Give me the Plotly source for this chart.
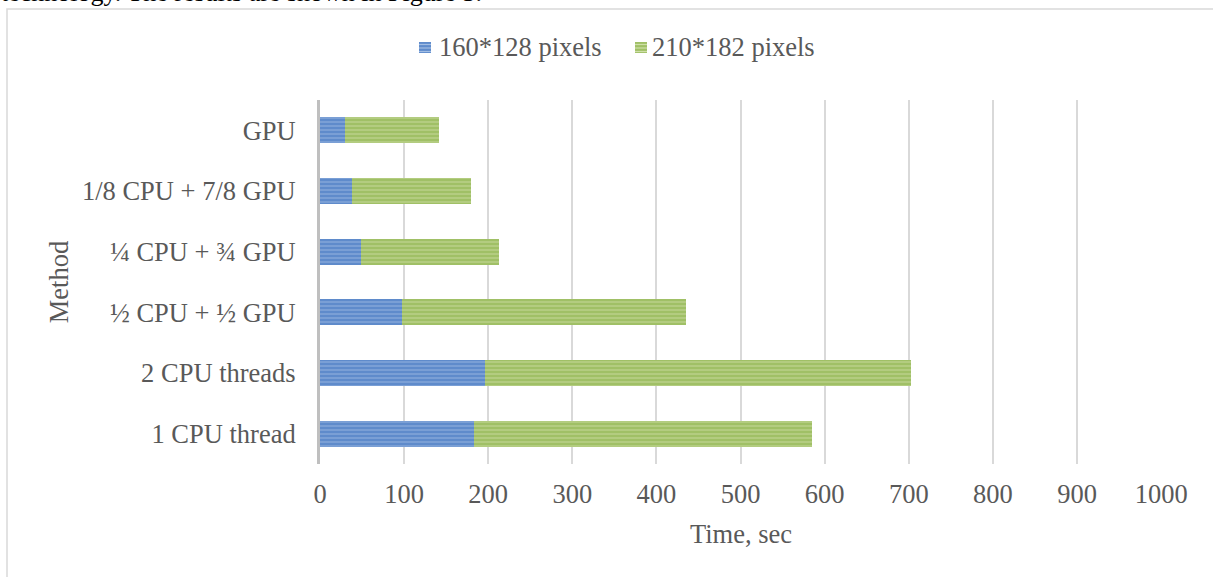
import plotly.graph_objects as go

# Processing time per method for two image sizes (seconds)
methods = ["1 CPU thread", "2 CPU threads", "½ CPU + ½ GPU",
           "¼ CPU + ¾ GPU", "1/8 CPU + 7/8 GPU", "GPU"]
small_px = [183, 196, 98, 49, 38, 30]
large_px = [402, 507, 337, 164, 141, 112]
series_names = ["160*128 pixels", "210*182 pixels"]
x_ticks = [0, 100, 200, 300, 400, 500, 600, 700, 800, 900, 1000]

FONT = "Liberation Serif, Times New Roman, serif"
GREY_TXT = "#595959"
FS = 26.5
COLORS = ["#5F8BCB", "#A0C066"]
STRIPES = ["#A3BEE3", "#CFE0A8"]

# page geometry helpers (plot area: 320..1162 px wide, 100..464 px tall)
PL, PW, PT, PH = 320, 842, 100, 364


def px_x(p):
    return (p - PL) / PW


def px_y(p):
    return (PT + PH - p) / PH


fig = go.Figure()
for vals, name, col, stripe in zip([small_px, large_px], series_names,
                                   COLORS, STRIPES):
    fig.add_trace(go.Bar(
        y=methods, x=vals, name=name, orientation="h", showlegend=False,
        marker=dict(color=col, line=dict(width=0),
                    pattern=dict(shape="-", fgcolor=stripe, size=4,
                                 solidity=0.4, fillmode="overlay")),
    ))

# legend drawn as striped swatches + labels
legend_shapes = []
legend_notes = []
for (sx, tx), name, col, stripe in zip([(419, 437), (635, 650)], series_names,
                                       COLORS, STRIPES):
    legend_shapes.append(dict(type="rect", xref="paper", yref="paper",
                              x0=px_x(sx), x1=px_x(sx + 12),
                              y0=px_y(53), y1=px_y(42),
                              fillcolor=col, line=dict(width=0)))
    for k in range(3):
        yy = 44.5 + 3.5 * k
        legend_shapes.append(dict(type="line", xref="paper", yref="paper",
                                  x0=px_x(sx), x1=px_x(sx + 12),
                                  y0=px_y(yy), y1=px_y(yy),
                                  line=dict(color=stripe, width=1.2)))
    legend_notes.append(dict(text=name, xref="paper", yref="paper",
                             x=px_x(tx), y=px_y(47), xanchor="left",
                             yanchor="middle", showarrow=False,
                             font=dict(family=FONT, size=FS, color=GREY_TXT)))

frame = dict(type="rect", xref="paper", yref="paper",
             x0=px_x(7), x1=px_x(1400), y0=px_y(700), y1=px_y(9),
             line=dict(color="#D9D9D9", width=1.5),
             fillcolor="rgba(0,0,0,0)", layer="below")

page_text = dict(text="technology. The results are shown in Figure 5.",
                 xref="paper", yref="paper", x=px_x(-1), y=px_y(9),
                 xanchor="left", yanchor="bottom", showarrow=False,
                 font=dict(family=FONT, size=26, color="black"))

fig.update_layout(
    barmode="stack",
    bargap=0.57,
    width=1213, height=577,
    margin=dict(l=PL, r=1213 - PL - PW, t=PT, b=577 - PT - PH),
    paper_bgcolor="white", plot_bgcolor="white",
    font=dict(family=FONT, size=FS, color=GREY_TXT),
    showlegend=False,
    xaxis=dict(range=[0, 1001], tickvals=x_ticks, showgrid=True,
               gridcolor="#D9D9D9", gridwidth=2, zeroline=False,
               showline=False, ticks="", ticklabelstandoff=11,
               title=dict(text="Time, sec", standoff=16,
                          font=dict(family=FONT, size=FS, color=GREY_TXT))),
    yaxis=dict(showline=True, linecolor="#BFBFBF", linewidth=3,
               showgrid=False, ticks="", ticklabelstandoff=16,
               title=dict(text="Method", standoff=6,
                          font=dict(family=FONT, size=FS, color=GREY_TXT))),
    shapes=[frame] + legend_shapes,
    annotations=[page_text] + legend_notes,
)

fig.write_html("out.html")
